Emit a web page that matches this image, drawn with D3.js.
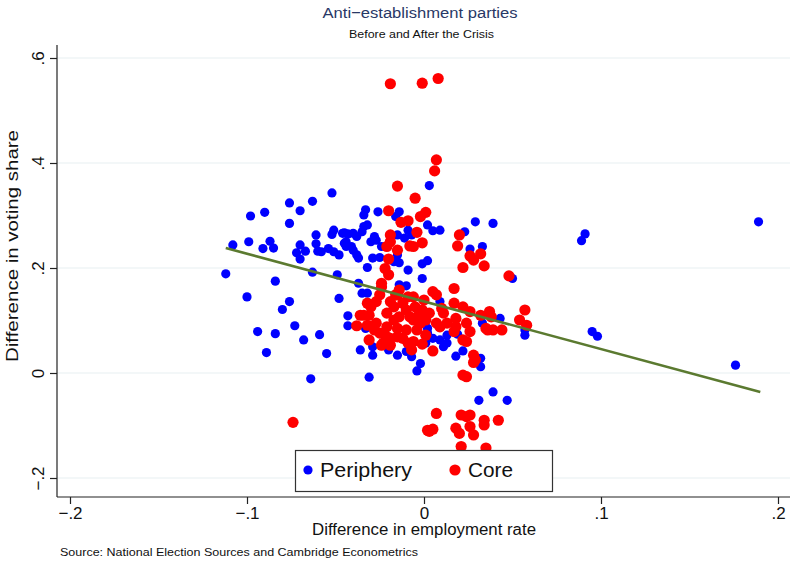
<!DOCTYPE html>
<html>
<head>
<meta charset="utf-8">
<script src="https://cdn.jsdelivr.net/npm/d3@7"></script>
<style>
  body { margin: 0; background: #fff; }
  svg { display: block; font-family: "Liberation Sans", Arial, sans-serif; }
</style>
</head>
<body>
<svg id="chart" width="792" height="563"></svg>
<script>
// scatter: difference in voting share vs difference in employment rate

const xTicks = [-0.2, -0.1, 0, 0.1, 0.2];
const xTickLabels = ['\u2212.2', '\u2212.1', '0', '.1', '.2'];
const yTicks = [-0.2, 0, 0.2, 0.4, 0.6];
const yTickLabels = ['\u2212.2', '0', '.2', '.4', '.6'];

// Periphery countries [x, y]
const periphery = [
  [-0.052,0.343],[-0.076,0.324],[-0.063,0.327],[-0.070,0.309],[-0.098,0.299],[-0.090,0.306],
  [-0.076,0.285],[-0.108,0.244],[-0.099,0.250],[-0.087,0.251],[-0.091,0.237],[-0.085,0.238],
  [-0.070,0.244],[-0.072,0.229],[-0.067,0.232],[-0.070,0.217],[-0.061,0.263],[-0.061,0.246],
  [-0.060,0.232],[-0.058,0.231],[-0.054,0.237],[-0.051,0.231],[-0.048,0.225],[-0.052,0.264],
  [-0.051,0.272],[-0.046,0.266],[-0.045,0.247],[-0.112,0.189],[-0.084,0.175],[-0.063,0.192],
  [-0.049,0.187],[-0.100,0.145],[-0.076,0.136],[-0.080,0.121],[-0.048,0.142],[-0.043,0.109],
  [-0.043,0.090],[-0.073,0.090],[-0.094,0.079],[-0.084,0.075],[-0.068,0.063],[-0.059,0.073],
  [-0.089,0.039],[-0.055,0.037],[-0.064,-0.011],[0.003,0.357],[-0.014,0.307],[-0.026,0.307],
  [-0.034,0.301],[-0.033,0.311],[0.002,0.282],[0.005,0.271],[0.009,0.272],[-0.014,0.210],
  [-0.009,0.196],[-0.001,0.208],[0.002,0.214],[-0.032,0.201],[-0.001,0.180],[-0.010,0.166],
  [-0.037,0.171],[-0.045,0.267],[-0.043,0.265],[-0.040,0.266],[-0.044,0.250],[-0.044,0.241],
  [-0.034,0.279],[-0.032,0.282],[-0.035,0.269],[-0.028,0.260],[-0.027,0.253],[-0.038,0.260],
  [-0.040,0.234],[-0.038,0.225],[-0.037,0.219],[-0.041,0.241],[-0.025,0.220],[-0.029,0.219],
  [-0.016,0.298],[-0.030,0.250],[-0.024,0.241],[-0.009,0.272],[-0.007,0.263],[-0.011,0.257],
  [-0.015,0.263],[-0.015,0.225],[-0.017,0.212],[-0.035,0.152],[-0.032,0.152],[-0.033,0.085],
  [-0.036,0.044],[-0.029,0.050],[-0.029,0.034],[-0.020,0.044],[-0.015,0.034],[-0.010,0.041],
  [-0.007,0.031],[-0.002,0.018],[0.002,0.085],[0.005,0.066],[0.009,0.063],[0.011,0.050],
  [0.013,0.057],[0.001,0.057],[-0.004,0.004],[0.018,0.032],[0.022,0.042],[0.032,0.028],
  [0.032,0.012],[-0.031,-0.008],[-0.014,0.168],[0.050,0.180],[0.043,0.104],[0.057,0.072],
  [0.057,0.082],[0.033,0.095],[0.009,0.136],[0.039,-0.036],[0.031,-0.052],[0.047,-0.052],
  [0.029,0.288],[0.039,0.285],[0.023,0.269],[0.026,0.236],[0.033,0.241],[0.019,0.074],
  [0.013,0.072],[0.089,0.252],[0.091,0.265],[0.095,0.079],[0.098,0.070],[0.189,0.288],
  [0.176,0.015],[0.002,0.076]
];

// Core countries [x, y]
const core = [
  [-0.019,0.551],[-0.001,0.552],[0.008,0.561],[0.007,0.406],[0.006,0.385],[-0.015,0.356],
  [-0.005,0.333],[-0.020,0.309],[-0.013,0.287],[-0.009,0.290],[0.001,0.306],[-0.002,0.298],
  [-0.004,0.268],[-0.019,0.263],[-0.019,0.250],[-0.021,0.241],[-0.015,0.234],[-0.008,0.242],
  [-0.001,0.248],[-0.006,0.241],[-0.020,0.217],[-0.022,0.199],[-0.020,0.187],[-0.024,0.171],
  [-0.014,0.158],[-0.015,0.149],[0.005,0.155],[0.007,0.149],[-0.032,0.133],[-0.036,0.110],
  [-0.038,0.090],[0.005,0.042],[-0.001,0.055],[-0.023,0.057],[-0.021,0.069],[0.013,0.095],
  [0.009,0.088],[0.017,0.161],[0.048,0.185],[0.017,0.133],[0.022,0.126],[0.026,0.117],
  [0.032,0.110],[0.037,0.117],[0.038,0.107],[0.057,0.120],[0.054,0.101],[0.058,0.091],
  [0.035,0.085],[0.039,0.082],[0.044,0.082],[0.018,0.104],[0.018,0.088],[0.017,0.079],
  [0.024,0.095],[0.026,0.079],[0.022,0.063],[0.024,0.060],[0.028,0.034],[0.029,0.025],
  [0.022,-0.004],[0.024,-0.007],[-0.032,0.091],[0.007,0.095],[0.011,0.114],[0.020,0.263],
  [0.019,0.242],[0.026,0.223],[0.028,0.215],[0.032,0.227],[0.034,0.204],[0.022,0.201],
  [0.010,0.123],[0.036,0.082],[0.028,0.020],[-0.074,-0.094],[0.007,-0.077],[0.002,-0.109],
  [0.005,-0.107],[0.003,-0.111],[0.018,-0.105],[0.020,-0.115],[0.021,-0.080],[0.024,-0.083],
  [0.026,-0.080],[0.026,-0.102],[0.028,-0.118],[0.034,-0.090],[0.034,-0.099],[0.042,-0.090],
  [0.021,-0.140],[0.035,-0.143],
  [-0.024,0.164],[-0.025,0.149],[-0.027,0.136],[-0.030,0.126],[-0.009,0.145],[-0.006,0.145],
  [0.000,0.139],[-0.001,0.120],[-0.034,0.110],[-0.024,0.053],[-0.019,0.066],[-0.015,0.069],
  [-0.012,0.066],[-0.009,0.057],[-0.006,0.060],[0.001,0.101],[0.003,0.114],[-0.021,0.114],
  [-0.017,0.126],[-0.014,0.107],[-0.010,0.120],[-0.006,0.101],[-0.021,0.088],[-0.015,0.085],
  [-0.010,0.082],[-0.004,0.082],[-0.027,0.095],[-0.025,0.076],[-0.017,0.101],[-0.012,0.133],
  [-0.005,0.126],[-0.019,0.136],[-0.008,0.107],[-0.002,0.095],[-0.031,0.110],[-0.028,0.082],
  [-0.016,0.149],[-0.003,0.110],[0.001,0.072],[-0.031,0.063],[-0.019,0.053],[-0.007,0.044]
];

// fitted line end points
const fitX = [-0.112, 0.190];
const fitY = [0.238, -0.036];

const svg = d3.select('#chart');

const x = d3.scaleLinear().domain([-0.2, 0.2]).range([70, 778]);
const y = d3.scaleLinear().domain([-0.2, 0.6]).range([478, 58]);

const axisLeft = 57;
const axisBottom = 497;
const plotRight = 790;
const plotTop = 45;
const font = '"Liberation Sans", Arial, sans-serif';

// grid lines
svg.append('g')
  .selectAll('line')
  .data(yTicks)
  .enter()
  .append('line')
  .attr('x1', axisLeft)
  .attr('x2', plotRight)
  .attr('y1', d => y(d))
  .attr('y2', d => y(d))
  .attr('stroke', '#e8f0f2')
  .attr('stroke-width', 1.2);

// points
svg.append('g')
  .selectAll('circle')
  .data(periphery)
  .enter()
  .append('circle')
  .attr('cx', d => x(d[0]))
  .attr('cy', d => y(d[1]))
  .attr('r', 4.6)
  .attr('fill', '#0000ff');

svg.append('g')
  .selectAll('circle')
  .data(core)
  .enter()
  .append('circle')
  .attr('cx', d => x(d[0]))
  .attr('cy', d => y(d[1]))
  .attr('r', 5.6)
  .attr('fill', '#ff0000');

// fit line
svg.append('line')
  .attr('x1', x(fitX[0]))
  .attr('y1', y(fitY[0]))
  .attr('x2', x(fitX[1]))
  .attr('y2', y(fitY[1]))
  .attr('stroke', '#5b7a30')
  .attr('stroke-width', 2.6);

// axes
const xAxis = d3.axisBottom(x)
  .tickValues(xTicks)
  .tickSize(7)
  .tickPadding(3)
  .tickFormat((d, i) => xTickLabels[i]);

const gx = svg.append('g')
  .attr('transform', `translate(0,${axisBottom})`)
  .call(xAxis);
gx.select('.domain').remove();
gx.append('line')
  .attr('x1', axisLeft).attr('x2', plotRight)
  .attr('stroke', '#222').attr('stroke-width', 1.2);
gx.selectAll('.tick line').attr('stroke', '#222').attr('stroke-width', 1.2);
gx.selectAll('.tick text')
  .attr('fill', '#111')
  .attr('dy', '0.7em')
  .style('font-size', '17px')
  .style('font-family', font);

const yAxis = d3.axisLeft(y)
  .tickValues(yTicks)
  .tickSize(7)
  .tickFormat((d, i) => yTickLabels[i]);

const gy = svg.append('g')
  .attr('transform', `translate(${axisLeft},0)`)
  .call(yAxis);
gy.select('.domain').remove();
gy.append('line')
  .attr('y1', plotTop).attr('y2', axisBottom)
  .attr('stroke', '#222').attr('stroke-width', 1.2);
gy.selectAll('.tick line').attr('stroke', '#222').attr('stroke-width', 1.2);
gy.selectAll('.tick text')
  .attr('fill', '#111')
  .attr('x', 0)
  .attr('dy', 0)
  .attr('text-anchor', 'middle')
  .attr('transform', 'translate(-13,0) rotate(-90)')
  .style('font-size', '17px')
  .style('font-family', font);

// titles
function addText(txt, xPos, yPos, size, width, color, anchor) {
  return svg.append('text')
    .attr('x', xPos).attr('y', yPos)
    .attr('text-anchor', anchor || 'middle')
    .attr('fill', color || '#111')
    .attr('textLength', width)
    .attr('lengthAdjust', 'spacingAndGlyphs')
    .style('font-size', size + 'px')
    .text(txt);
}

addText('Anti\u2212establishment parties', 420, 18, 15.5, 195, '#283866');
addText('Before and After the Crisis', 421.5, 38, 11.5, 145);
addText('Difference in employment rate', 424, 535, 16, 224);
addText('Source: National Election Sources and Cambridge Econometrics', 60, 556, 11.5, 358, '#111', 'start');

svg.append('text')
  .attr('transform', `translate(18,${(130 + 362) / 2}) rotate(-90)`)
  .attr('text-anchor', 'middle')
  .attr('fill', '#111')
  .attr('textLength', 232)
  .attr('lengthAdjust', 'spacingAndGlyphs')
  .style('font-size', '16px')
  .text('Difference in voting share');

// legend
const legend = svg.append('g');
legend.append('rect')
  .attr('x', 295.5).attr('y', 450.5)
  .attr('width', 257).attr('height', 41)
  .attr('fill', '#fff')
  .attr('stroke', '#333')
  .attr('stroke-width', 1.2);

const legendItems = [
  { label: 'Periphery', color: '#0000ff', r: 4.6, cx: 308, tx: 320, w: 92 },
  { label: 'Core', color: '#ff0000', r: 5.6, cx: 455, tx: 468, w: 45 }
];

legend.selectAll('circle')
  .data(legendItems)
  .enter()
  .append('circle')
  .attr('cx', d => d.cx)
  .attr('cy', 470)
  .attr('r', d => d.r)
  .attr('fill', d => d.color);

legend.selectAll('text')
  .data(legendItems)
  .enter()
  .append('text')
  .attr('x', d => d.tx)
  .attr('y', 477)
  .attr('fill', '#111')
  .attr('textLength', d => d.w)
  .attr('lengthAdjust', 'spacingAndGlyphs')
  .style('font-size', '20px')
  .text(d => d.label);
</script>
</body>
</html>
